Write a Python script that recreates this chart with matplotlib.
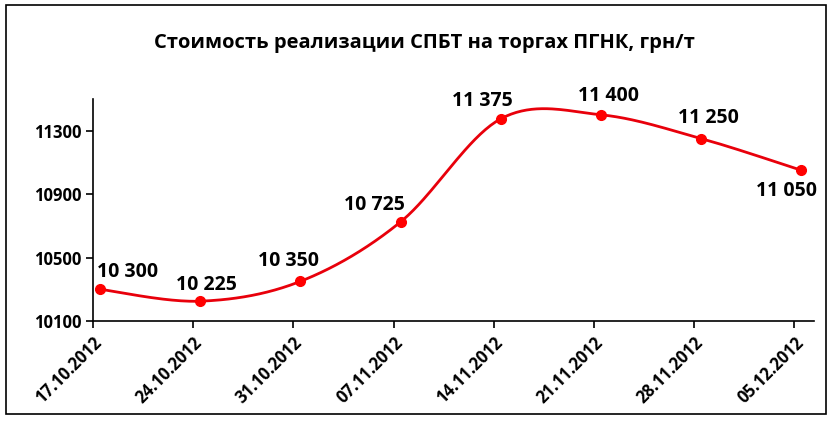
import numpy as np
import matplotlib
matplotlib.use("Agg")
from matplotlib import pyplot as plt
from matplotlib.patches import Rectangle

plt.rcParams['font.family'] = ['Open Sans', 'DejaVu Sans']

dates = ['17.10.2012', '24.10.2012', '31.10.2012', '07.11.2012',
         '14.11.2012', '21.11.2012', '28.11.2012', '05.12.2012']
prices = [10300, 10225, 10350, 10725, 11375, 11400, 11250, 11050]
value_labels = ['10 300', '10 225', '10 350', '10 725', '11 375', '11 400', '11 250', '11 050']
# label offsets in pixels (dx, dy) relative to the point
label_offsets = [(28, 17), (6, 16), (-12, 20), (-26, 17), (-18, 18), (7, 19), (7, 21), (-15, -21)]

x = np.arange(len(prices), dtype=float)
y = np.array(prices, dtype=float)

# smooth line like Excel (Catmull-Rom via cubic Bezier)
def smooth(xs, ys, n=40):
    px = np.concatenate([[xs[0]], xs, [xs[-1]]])
    py = np.concatenate([[ys[0]], ys, [ys[-1]]])
    outx, outy = [], []
    t = np.linspace(0, 1, n)
    for i in range(1, len(px) - 2):
        p0 = np.array([px[i], py[i]])
        p3 = np.array([px[i + 1], py[i + 1]])
        c1 = p0 + (np.array([px[i + 1], py[i + 1]]) - np.array([px[i - 1], py[i - 1]])) / 6
        c2 = p3 - (np.array([px[i + 2], py[i + 2]]) - np.array([px[i], py[i]])) / 6
        b = ((1 - t) ** 3)[:, None] * p0 + (3 * (1 - t) ** 2 * t)[:, None] * c1 \
            + (3 * (1 - t) * t ** 2)[:, None] * c2 + (t ** 3)[:, None] * p3
        outx.extend(b[:, 0]); outy.extend(b[:, 1])
    return np.array(outx), np.array(outy)

sx, sy = smooth(x, y)

fig = plt.figure(figsize=(8.33, 4.21), dpi=100)
ax = fig.add_axes([0.1116, 0.2375, 0.865, 0.5275])

ax.plot(sx, sy, color='#e8000b', lw=2, zorder=2)
ax.plot(x, y, 'o', color='#ff0000', ms=7, zorder=3)

for xi, yi, lab, (dx, dy) in zip(x, y, value_labels, label_offsets):
    ax.annotate(lab, (xi, yi), xytext=(dx, dy), textcoords='offset pixels',
                ha='center', va='center', fontsize=14, fontweight='bold')

ax.set_ylim(10100, 11500)
ax.set_yticks([10100, 10500, 10900, 11300])
ax.set_xlim(-0.07, 7.12)
ax.set_xticks(x - 0.07)
ax.set_xticklabels(dates, rotation=45, ha='right', rotation_mode='anchor')

for s in ['top', 'right']:
    ax.spines[s].set_visible(False)
for s in ['left', 'bottom']:
    ax.spines[s].set_linewidth(1.2)
ax.tick_params(direction='out', length=5, width=1.2)
for lab in ax.get_xticklabels() + ax.get_yticklabels():
    lab.set_fontweight('bold')
    lab.set_fontsize(12)
ax.tick_params(axis='x', pad=4)

fig.text(0.509, 0.898, 'Стоимость реализации СПБТ на торгах ПГНК, грн/т',
         ha='center', va='center', fontsize=14.5, fontweight='bold')

fig.patches.append(Rectangle((0.007, 0.017), 0.985, 0.97, transform=fig.transFigure,
                             fill=False, edgecolor='black', lw=1.2))

fig.savefig('out.png', dpi=100)
